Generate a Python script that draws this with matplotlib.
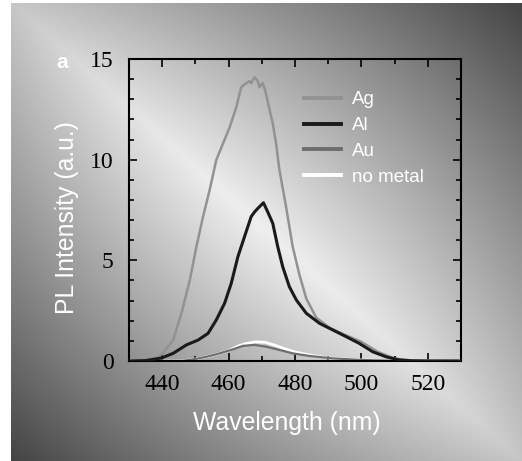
import numpy as np
import matplotlib
matplotlib.use("Agg")
import matplotlib.pyplot as plt
from matplotlib.ticker import MultipleLocator

# ---- data ----
ag_wl = [430, 435, 438, 440, 443.3, 445.8, 448.3, 450.3, 452.3, 454.3, 456.3, 458.3, 460.3,
         462.3, 463.8, 465.3, 466.3, 466.8, 467.8, 468.8, 469.3, 470.3, 471.1, 472.3, 473.3,
         474.3, 475.3, 477.3, 479.3, 481.3, 483.4, 486.4, 490.4, 495, 500, 505, 510, 515, 520, 530]
ag_pl = [0.0, 0.05, 0.15, 0.35, 1.04, 2.38, 4.0, 5.68, 7.17, 8.5, 9.99, 10.8, 11.6,
         12.6, 13.6, 13.8, 13.9, 13.8, 14.1, 13.9, 13.6, 13.8, 13.4, 12.5, 11.8,
         10.8, 9.5, 7.67, 5.68, 4.3, 3.1, 2.15, 1.65, 1.3, 0.95, 0.45, 0.12, 0.03, 0.01, 0.0]

al_wl = [430, 435, 439.8, 443.3, 447.3, 450.8, 453.8, 456.3, 458.8, 460.8, 462.8, 464.8,
         466.8, 467.8, 468.8, 470.5, 471.8, 473.3, 474.8, 476.3, 478.3, 480.4, 483.4, 487.4,
         491.4, 495.4, 499.4, 503.4, 507.4, 511.4, 515, 520, 530]
al_pl = [0.0, 0.02, 0.15, 0.38, 0.8, 1.04, 1.37, 2.04, 2.87, 3.86, 5.18, 6.18,
         7.17, 7.4, 7.58, 7.86, 7.4, 6.84, 5.68, 4.68, 3.69, 3.03, 2.37, 1.87,
         1.54, 1.21, 0.87, 0.46, 0.21, 0.05, 0.01, 0.0, 0.0]

au_wl = [430, 446, 450, 453.3, 457.3, 461.3, 464.3, 467.8, 471.3, 475.3, 479.3, 484.4, 491.3, 500, 510, 530]
au_pl = [0.0, 0.0, 0.1, 0.21, 0.38, 0.58, 0.75, 0.8, 0.71, 0.55, 0.38, 0.25, 0.13, 0.05, 0.01, 0.0]

nm_wl = [430, 446, 450, 453.3, 457.3, 460, 463, 465, 468, 471, 474, 477, 480, 485, 490, 500, 510, 530]
nm_pl = [0.0, 0.0, 0.1, 0.21, 0.38, 0.52, 0.75, 0.86, 0.95, 0.93, 0.78, 0.6, 0.45, 0.28, 0.15, 0.05, 0.01, 0.0]

x_ticks = [440, 460, 480, 500, 520]
y_ticks = [0, 5, 10, 15]

W, H, DPI = 522, 461, 100
fig = plt.figure(figsize=(W / DPI, H / DPI), dpi=DPI, facecolor="white")

# ---- gradient background ----
bg = fig.add_axes([11 / W, 0, 1 - 11 / W, 1 - 3 / H], zorder=0)
nx, ny = 400, 400
xn, yn = np.meshgrid(np.linspace(0, 1, nx), np.linspace(0, 1, ny))
g = 238 - 170 * np.abs(xn - yn) - 40 * (xn + yn - 1) ** 2
g = np.clip(g, 0, 255) / 255.0
bg.imshow(g, cmap="gray", vmin=0, vmax=1, aspect="auto", interpolation="bilinear")
bg.axis("off")

# ---- main axes ----
ax = fig.add_axes([129 / W, 1 - 361 / H, (461 - 129) / W, (361 - 59) / H], zorder=1)
ax.patch.set_alpha(0)

ax.plot(ag_wl, ag_pl, color="#929292", lw=1.8, label="Ag", zorder=3)
ax.plot(al_wl, al_pl, color="#1a1a1a", lw=2.2, label="Al", zorder=4)
ax.plot(nm_wl, nm_pl, color="white", lw=2.0, label="no metal", zorder=2)
ax.plot(au_wl, au_pl, color="#6e6e6e", lw=1.6, label="Au", zorder=2.5)

ax.set_xlim(430, 530)
ax.set_ylim(0, 15)
ax.set_xticks(x_ticks)
ax.set_yticks(y_ticks)
ax.xaxis.set_minor_locator(MultipleLocator(10))
ax.yaxis.set_minor_locator(MultipleLocator(1))
ax.tick_params(which="both", direction="in", top=True, right=True, width=1.2, color="black")
ax.tick_params(which="major", length=6)
ax.tick_params(which="minor", length=3.5)
ax.tick_params(axis="x", which="major", pad=9)
ax.tick_params(axis="y", which="major", pad=11)
for lab in ax.get_xticklabels() + ax.get_yticklabels():
    lab.set_fontfamily("Liberation Serif")
    lab.set_fontsize(17)
for s in ax.spines.values():
    s.set_linewidth(1.5)

handles, labels = ax.get_legend_handles_labels()
order = [0, 1, 3, 2]
leg = ax.legend([handles[i] for i in order], [labels[i] for i in order],
                loc="upper left", bbox_to_anchor=(304 / W, 1 - 91 / H),
                bbox_transform=fig.transFigure, frameon=False,
                prop={"family": "Liberation Sans", "size": 13.5},
                handlelength=1.95, handletextpad=0.6, labelspacing=0.47,
                borderpad=0, borderaxespad=0)
for t in leg.get_texts():
    t.set_color("white")
for l in leg.get_lines():
    l.set_linewidth(2.8)

fig.text(287 / W, 1 - 423 / H, "Wavelength (nm)", color="white", fontsize=17.8,
         family="Liberation Sans", ha="center", va="center")
fig.text(67 / W, 1 - 218 / H, "PL Intensity (a.u.)", color="white", fontsize=17.8,
         family="Liberation Sans", ha="center", va="center", rotation=90)
fig.text(62 / W, 1 - 62 / H, "a", color="white", fontsize=15, fontweight="bold",
         family="Liberation Sans", ha="center", va="center")

fig.savefig("out.png", dpi=DPI, facecolor="white")
